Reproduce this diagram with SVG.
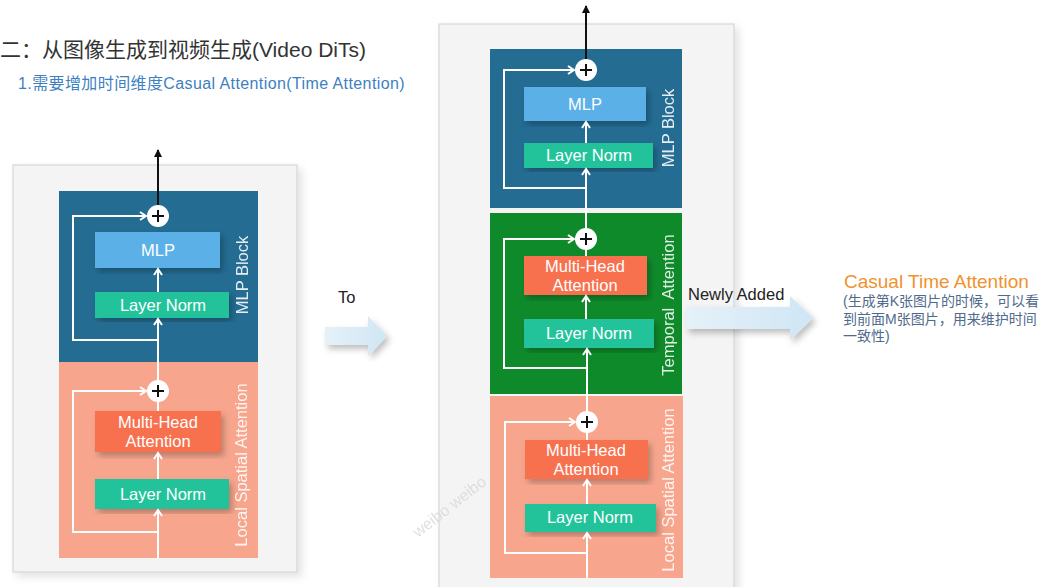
<svg xmlns="http://www.w3.org/2000/svg" width="1045" height="587" viewBox="0 0 1045 587">
  <defs>
    <style>
      .lat { font-family: "Liberation Sans", Arial, sans-serif; }
      .cjk { font-family: "Liberation Sans", "Noto Sans CJK SC", sans-serif; }
      .panel { fill: #f4f4f4; stroke: #cfcfcf; stroke-width: 1; }
      .blue { fill: #246c92; }
      .salmon { fill: #f7a68d; }
      .green { fill: #0f8a2b; }
      .mlp { fill: #5cb0e8; }
      .ln { fill: #20c39b; }
      .mha { fill: #f8714f; }
      .box-text { fill: #ffffff; font-size: 16.5px; text-anchor: middle; }
      .side { fill: #ffffff; font-size: 16.5px; text-anchor: middle; opacity: 0.88; }
      .flow { stroke: #ffffff; stroke-width: 2; fill: none; }
      .out { stroke: #111111; stroke-width: 2; fill: none; }
      .plus-c { fill: #ffffff; }
      .plus-s { stroke: #111111; stroke-width: 2; }
      .big-arrow { fill: url(#arrowFill); }
    </style>
    <linearGradient id="arrowFill" x1="0" y1="0" x2="1" y2="0">
      <stop offset="0" stop-color="#e6f1f8"/>
      <stop offset="1" stop-color="#cfe6f5"/>
    </linearGradient>
    <marker id="wa" markerUnits="userSpaceOnUse" markerWidth="10" markerHeight="10" viewBox="0 0 10 10" refX="8" refY="5" orient="auto">
      <path d="M2,1 L8,5 L2,9" fill="none" stroke="#ffffff" stroke-width="2"/>
    </marker>
    <marker id="ba" markerUnits="userSpaceOnUse" markerWidth="10" markerHeight="10" viewBox="0 0 10 10" refX="8" refY="5" orient="auto">
      <path d="M1,1 L9,5 L1,9 Z" fill="#111111"/>
    </marker>
    <filter id="sh" x="-10%" y="-10%" width="125%" height="125%">
      <feDropShadow dx="3" dy="4" stdDeviation="3" flood-color="#000000" flood-opacity="0.25"/>
    </filter>
    <filter id="psh" x="-5%" y="-5%" width="115%" height="115%">
      <feDropShadow dx="4" dy="4" stdDeviation="4" flood-color="#000000" flood-opacity="0.12"/>
    </filter>
  </defs>

  <rect width="1045" height="587" fill="#ffffff"/>

  <!-- headings -->
  <g id="title">
    <text class="cjk" x="0" y="57" font-size="21" fill="#333333">二：从图像生成到视频生成(Video DiTs)</text>
    <text class="cjk" x="18" y="89" font-size="16" letter-spacing="0.4" fill="#3d7fbf">1.需要增加时间维度Casual Attention(Time Attention)</text>
  </g>

  <!-- left: image DiT block -->
  <g id="dit-image">
    <rect class="panel" x="13" y="165" width="284" height="407" filter="url(#psh)"/>
    <rect class="blue" x="59" y="191" width="199" height="171"/>
    <rect class="salmon" x="59" y="362" width="199" height="196"/>
    <rect class="mlp" x="95" y="232" width="125" height="36" filter="url(#sh)"/>
    <text class="lat box-text" x="158" y="256">MLP</text>
    <rect class="ln" x="95" y="292" width="134" height="26" filter="url(#sh)"/>
    <text class="lat box-text" x="163" y="311">Layer Norm</text>
    <text class="lat side" transform="translate(248,275) rotate(-90)" y="0">MLP Block</text>
    <rect class="mha" x="95" y="411" width="126" height="41" filter="url(#sh)"/>
    <text class="lat box-text" x="158" y="428">Multi-Head</text>
    <text class="lat box-text" x="158" y="447">Attention</text>
    <rect class="ln" x="95" y="479" width="134" height="30" filter="url(#sh)"/>
    <text class="lat box-text" x="163" y="500">Layer Norm</text>
    <text class="lat side" transform="translate(247,465) rotate(-90)" y="0">Local Spatial Attention</text>
  </g>

  <!-- middle: video DiT block -->
  <g id="dit-video">
    <rect class="panel" x="439" y="24" width="295" height="570" filter="url(#psh)"/>
    <rect class="blue" x="490" y="49" width="192" height="159"/>
    <rect class="green" x="490" y="213" width="192" height="181"/>
    <rect class="salmon" x="490" y="396" width="193" height="182"/>
    <rect class="mlp" x="524" y="87" width="122" height="34" filter="url(#sh)"/>
    <text class="lat box-text" x="585" y="110">MLP</text>
    <rect class="ln" x="524" y="143" width="129" height="25" filter="url(#sh)"/>
    <text class="lat box-text" x="589" y="161">Layer Norm</text>
    <text class="lat side" transform="translate(674,128) rotate(-90)" y="0">MLP Block</text>
    <rect class="mha" x="524" y="256" width="123" height="39" filter="url(#sh)"/>
    <text class="lat box-text" x="585" y="272">Multi-Head</text>
    <text class="lat box-text" x="585" y="291">Attention</text>
    <rect class="ln" x="524" y="319" width="130" height="29" filter="url(#sh)"/>
    <text class="lat box-text" x="589" y="339">Layer Norm</text>
    <text class="lat side" transform="translate(674,305) rotate(-90)" y="0" xml:space="preserve">Temporal  Attention</text>
    <rect class="mha" x="525" y="440" width="123" height="39" filter="url(#sh)"/>
    <text class="lat box-text" x="586" y="456">Multi-Head</text>
    <text class="lat box-text" x="586" y="475">Attention</text>
    <rect class="ln" x="525" y="504" width="131" height="28" filter="url(#sh)"/>
    <text class="lat box-text" x="590" y="523">Layer Norm</text>
    <text class="lat side" transform="translate(674,490) rotate(-90)" y="0">Local Spatial Attention</text>
  </g>

  <!-- data flow, residual paths and outputs -->
  <g id="connectors">
    <!-- left column -->
    <line class="out" x1="158" y1="205" x2="158" y2="150" marker-end="url(#ba)"/>
    <line class="flow" x1="158" y1="558" x2="158" y2="510" marker-end="url(#wa)"/>
    <path class="flow" d="M158,532 H73 V391 H146" marker-end="url(#wa)"/>
    <line class="flow" x1="158" y1="479" x2="158" y2="453" marker-end="url(#wa)"/>
    <line class="flow" x1="158" y1="411" x2="158" y2="402"/>
    <line class="flow" x1="158" y1="380" x2="158" y2="319" marker-end="url(#wa)"/>
    <path class="flow" d="M158,340 H73 V216 H146" marker-end="url(#wa)"/>
    <line class="flow" x1="158" y1="292" x2="158" y2="269" marker-end="url(#wa)"/>

    <!-- middle column -->
    <line class="out" x1="586" y1="59" x2="586" y2="6" marker-end="url(#ba)"/>
    <line class="flow" x1="587" y1="578" x2="587" y2="533" marker-end="url(#wa)"/>
    <path class="flow" d="M587,553 H505 V422 H575" marker-end="url(#wa)"/>
    <line class="flow" x1="587" y1="504" x2="587" y2="480" marker-end="url(#wa)"/>
    <line class="flow" x1="587" y1="440" x2="587" y2="433"/>
    <line class="flow" x1="587" y1="411" x2="587" y2="349" marker-end="url(#wa)"/>
    <path class="flow" d="M587,368 H504 V239 H574" marker-end="url(#wa)"/>
    <line class="flow" x1="586" y1="319" x2="586" y2="296" marker-end="url(#wa)"/>
    <line class="flow" x1="586" y1="256" x2="586" y2="250"/>
    <line class="flow" x1="586" y1="228" x2="586" y2="169" marker-end="url(#wa)"/>
    <path class="flow" d="M586,188 H504 V70 H574" marker-end="url(#wa)"/>
    <line class="flow" x1="586" y1="143" x2="586" y2="122" marker-end="url(#wa)"/>

    <!-- big transition arrows -->
    <path class="big-arrow" d="M325,327 H368 V316 L387,336 L368,356 V345 H325 Z" filter="url(#sh)"/>
    <path class="big-arrow" d="M686,307 H790 V296 L813,318 L790,340 V329 H686 Z" filter="url(#sh)"/>
  </g>

  <!-- residual sum nodes -->
  <g id="sum-left-top">
    <circle class="plus-c" cx="158" cy="216" r="11"/>
    <path class="plus-s" d="M152,216 H164 M158,210 V222"/>
  </g>
  <g id="sum-left-bottom">
    <circle class="plus-c" cx="158" cy="391" r="11"/>
    <path class="plus-s" d="M152,391 H164 M158,385 V397"/>
  </g>
  <g id="sum-mid-top">
    <circle class="plus-c" cx="586" cy="70" r="11"/>
    <path class="plus-s" d="M580,70 H592 M586,64 V76"/>
  </g>
  <g id="sum-mid-temporal">
    <circle class="plus-c" cx="586" cy="239" r="11"/>
    <path class="plus-s" d="M580,239 H592 M586,233 V245"/>
  </g>
  <g id="sum-mid-bottom">
    <circle class="plus-c" cx="587" cy="422" r="11"/>
    <path class="plus-s" d="M581,422 H593 M587,416 V428"/>
  </g>

  <!-- labels -->
  <g id="label-to">
    <text class="lat" x="338" y="303" font-size="16.5" fill="#222222">To</text>
  </g>
  <g id="label-new">
    <text class="lat" x="688" y="300" font-size="16.5" fill="#222222">Newly Added</text>
  </g>
  <g id="note">
    <text class="lat" x="844" y="288" font-size="19" fill="#f0922e">Casual Time Attention</text>
    <text class="cjk" x="843" y="306" font-size="14" fill="#4f6a8c">(生成第K张图片的时候，可以看</text>
    <text class="cjk" x="843" y="324" font-size="14" fill="#4f6a8c">到前面M张图片，用来维护时间</text>
    <text class="cjk" x="843" y="341" font-size="14" fill="#4f6a8c">一致性)</text>
  </g>

  <!-- faint mark -->
  <text class="lat" transform="translate(418,538) rotate(-38)" font-size="16" fill="#d8d8d8" opacity="0.8">weibo  weibo</text>
</svg>
